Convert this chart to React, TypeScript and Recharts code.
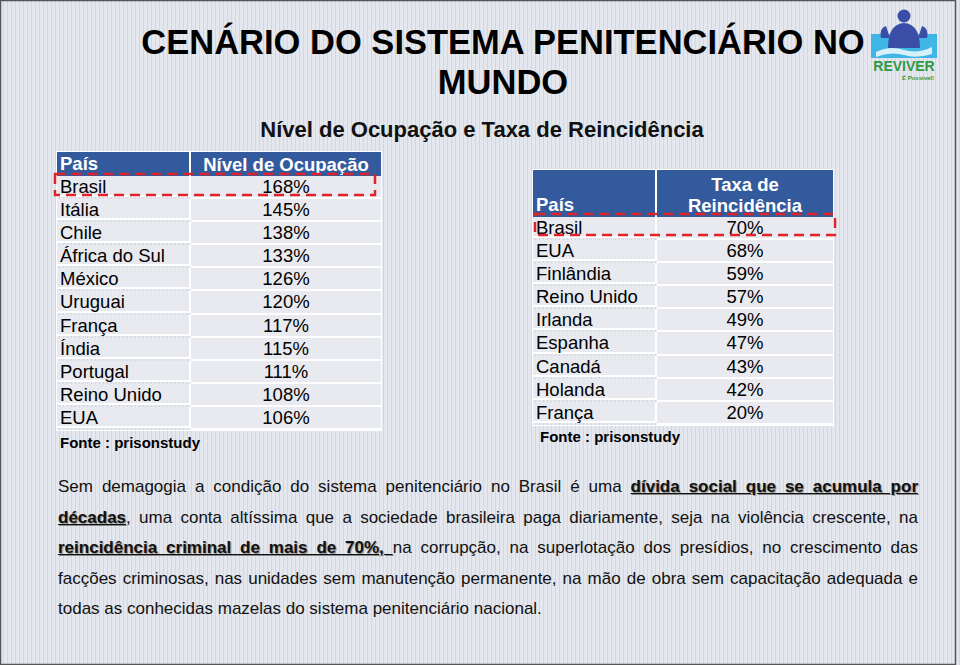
import { Surface, Rectangle, Text } from "recharts";

const ocupacaoPaises = ["Brasil", "Itália", "Chile", "África do Sul", "México", "Uruguai", "França", "Índia", "Portugal", "Reino Unido", "EUA"];
const ocupacaoValores = [168, 145, 138, 133, 126, 120, 117, 115, 111, 108, 106];

const reincPaises = ["Brasil", "EUA", "Finlândia", "Reino Unido", "Irlanda", "Espanha", "Canadá", "Holanda", "França"];
const reincValores = [70, 68, 59, 57, 49, 47, 43, 42, 20];

const FONT = "'Liberation Sans', Arial, sans-serif";
const BLUE = "#335a9c";
const CELL = "#e8eaef";

const cellStyle = {
  background: CELL,
  borderBottom: "2px solid #fff",
  height: 21.1,
  fontSize: 18.5,
  lineHeight: "21px",
  color: "#000",
};

const Tabela = ({ left, top, width, col1, headerH, header1, header2, paises, valores }: any) => (
  <div style={{ position: "absolute", left, top, width, fontFamily: FONT, border: "1px solid #fff", boxSizing: "border-box" }}>
    <div style={{ display: "flex", background: BLUE, height: headerH, color: "#fff", fontWeight: "bold", fontSize: 18.5 }}>
      <div style={{ width: col1, borderRight: "2px solid #fff", display: "flex", alignItems: "flex-end", paddingLeft: 3, paddingBottom: 1, boxSizing: "border-box" }}>{header1}</div>
      <div style={{ flex: 1, textAlign: "center", lineHeight: "21px", display: "flex", alignItems: "flex-end", justifyContent: "center", paddingBottom: 1 }}>
        <span>{header2}</span>
      </div>
    </div>
    {paises.map((p: string, i: number) => (
      <div key={p + i} style={{ display: "flex" }}>
        <div style={{ ...cellStyle, width: col1, borderRight: "2px solid #fff", paddingLeft: 3, boxSizing: "border-box" }}>{p}</div>
        <div style={{ ...cellStyle, flex: 1, textAlign: "center" }}>{valores[i]}%</div>
      </div>
    ))}
  </div>
);

const Logo = () => (
  <Surface width={72} height={72} viewBox={{ x: 0, y: 0, width: 72, height: 72 }} style={{ position: "absolute", left: 868, top: 8 }}>
    <Rectangle x={3} y={26} width={66} height={24} fill="#3fb6e6" />
    <path d="M8 44 Q22 37 36 42 Q50 46 64 39 L64 46 Q48 51 36 47 Q22 43 8 49 Z" fill="#ffffff" opacity={0.8} />
    <circle cx={36} cy={8} r={6.5} fill="#3a4ea8" />
    <path d="M20 40 Q20 16 36 15 Q52 16 52 40 Z" fill="#3a4ea8" />
    <path d="M13 30 Q11 20 18 18 L22 30 Z M59 30 Q61 20 54 18 L50 30 Z" fill="#3a4ea8" />
    <Text x={36} y={63} textAnchor="middle" fontFamily={FONT} fontWeight="bold" fontSize={14} fill="#2e9a47">REVIVER</Text>
    <Text x={50} y={72} textAnchor="middle" fontFamily={FONT} fontWeight="bold" fontSize={6} fill="#2e9a47">É Possível!</Text>
  </Surface>
);

const Overlay = () => (
  <Surface width={960} height={665} viewBox={{ x: 0, y: 0, width: 960, height: 665 }} style={{ position: "absolute", left: 0, top: 0, pointerEvents: "none" }}>
    <Rectangle x={55} y={174} width={320} height={21} fill="none" stroke="#e0232b" strokeWidth={2.5} strokeDasharray="10 6" />
    <Rectangle x={535} y={214} width={300} height={21} fill="none" stroke="#e0232b" strokeWidth={2.5} strokeDasharray="10 6" />
    <Rectangle x={0.5} y={0.5} width={955} height={664} fill="none" stroke="#555" strokeWidth={1.5} />
  </Surface>
);

const bold = { fontWeight: "bold", textDecoration: "underline", textShadow: "1px 1px 1px #888" } as const;

export default function App() {
  return (
    <div
      style={{
        position: "absolute",
        left: 0,
        top: 0,
        width: 960,
        height: 665,
        overflow: "hidden",
        fontFamily: FONT,
        background: "#dfe2ea",
        backgroundImage: "repeating-linear-gradient(90deg, #e4e7ee 0px, #e4e7ee 3px, #d3d7e0 3px, #d3d7e0 4px)",
      }}
    >
      <div style={{ position: "absolute", left: 100, top: 22, width: 806, textAlign: "center", fontWeight: "bold", fontSize: 34.5, lineHeight: "40px" }}>
        CENÁRIO DO SISTEMA PENITENCIÁRIO NO MUNDO
      </div>
      <div style={{ position: "absolute", left: 182, top: 117, width: 600, textAlign: "center", fontWeight: "bold", fontSize: 22, lineHeight: "26px", color: "#111" }}>
        Nível de Ocupação e Taxa de Reincidência
      </div>
      <Logo />
      <Tabela left={56} top={151} width={326} col1={134} headerH={24} header1="País" header2="Nível de Ocupação" paises={ocupacaoPaises} valores={ocupacaoValores} />
      <div style={{ position: "absolute", left: 60, top: 434, fontWeight: "bold", fontSize: 15 }}>Fonte : prisonstudy</div>
      <Tabela left={532} top={169} width={302} col1={124} headerH={47} header1="País" header2={<>Taxa de<br />Reincidência</>} paises={reincPaises} valores={reincValores} />
      <div style={{ position: "absolute", left: 540, top: 428, fontWeight: "bold", fontSize: 15 }}>Fonte : prisonstudy</div>
      <div style={{ position: "absolute", left: 58, top: 472, width: 860, fontSize: 17, lineHeight: "30.5px", textAlign: "justify", color: "#111" }}>
        <span>Sem demagogia a condição do sistema penitenciário no Brasil é uma </span>
        <span style={bold}>dívida social que se acumula por</span>{" "}
        <span style={bold}>décadas</span>
        <span>, uma conta altíssima que a sociedade brasileira paga diariamente, seja na violência crescente, na</span>{" "}
        <span style={bold}>reincidência criminal de mais de 70%, </span>
        <span>na corrupção, na superlotação dos presídios, no crescimento das</span>{" "}
        <span>facções criminosas, nas unidades sem manutenção permanente, na mão de obra sem capacitação adequada e</span>{" "}
        <span>todas as conhecidas mazelas do sistema penitenciário nacional.</span>
      </div>
      <Overlay />
    </div>
  );
}
